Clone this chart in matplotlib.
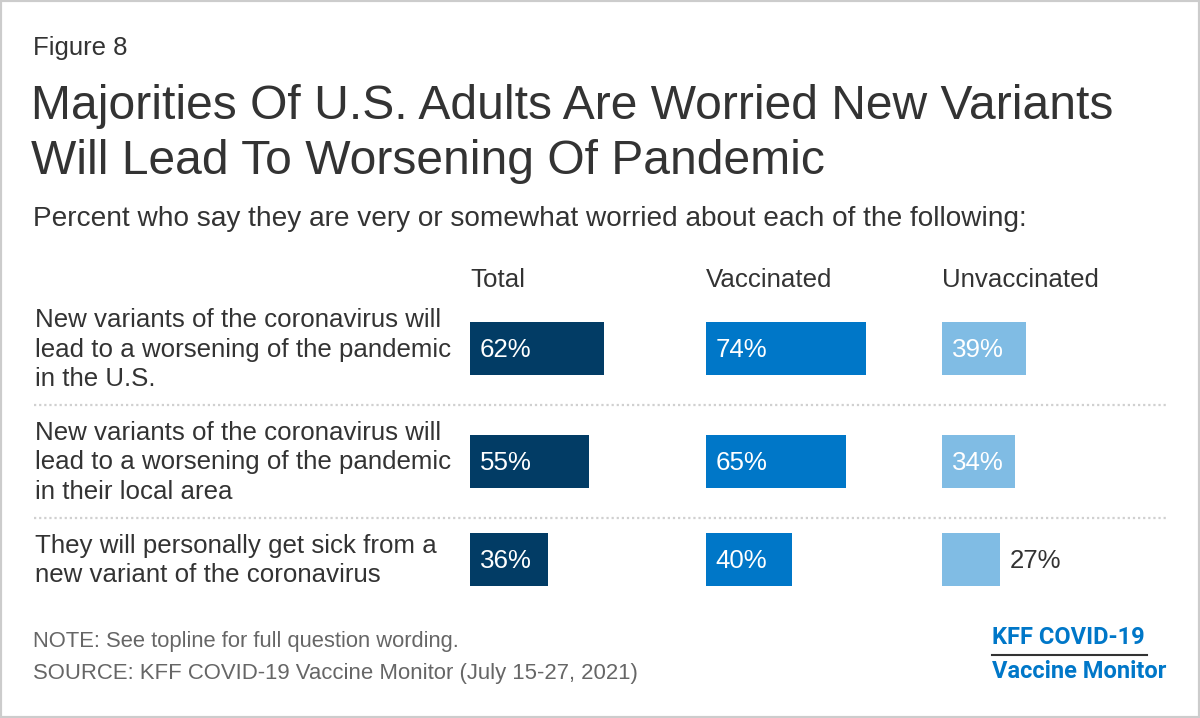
"""KFF figure: worry about new coronavirus variants, small-multiple bars."""

import matplotlib.pyplot as plt
from matplotlib.patches import Rectangle
from matplotlib.lines import Line2D

plt.rcParams['font.family'] = ['Liberation Sans', 'DejaVu Sans']

# data
row_labels = [
    'New variants of the coronavirus will\nlead to a worsening of the pandemic\nin the U.S.',
    'New variants of the coronavirus will\nlead to a worsening of the pandemic\nin their local area',
    'They will personally get sick from a\nnew variant of the coronavirus',
]
groups = ['Total', 'Vaccinated', 'Unvaccinated']
total = [62, 55, 36]
vaccinated = [74, 65, 40]
unvaccinated = [39, 34, 27]
series = [total, vaccinated, unvaccinated]
colors = ['#023c65', '#0077c8', '#80bce4']

TEXT = '#333333'
W, H = 1200, 718

fig = plt.figure(figsize=(W / 100, H / 100), dpi=100)


def fx(px):
    return px / W


def fy(py):
    return 1 - py / H


# row layout in pixels: height depends on how many lines the label has
top = 292
row_heights = [23 + 30 * (lab.count('\n') + 1) for lab in row_labels]
edges = [top]
for h in row_heights:
    edges.append(edges[-1] + h)
centers = [(a + b) / 2 for a, b in zip(edges[:-1], edges[1:])]
bottom = edges[-1]

# one axes per group, x scale 0-100 over 216 px
panel_left = [470, 706, 942]
panel_w = 216
for name, vals, col, left in zip(groups, series, colors, panel_left):
    ax = fig.add_axes([fx(left), fy(bottom), panel_w / W, (bottom - top) / H])
    ax.barh(centers, vals, height=53, color=col)
    ax.set_xlim(0, 100)
    ax.set_ylim(bottom, top)
    ax.axis('off')
    for c, v in zip(centers, vals):
        if v >= 30:
            ax.text(4.5, c + 1, f'{v}%', color='white', fontsize=18.6,
                    va='center', ha='left')
        else:
            ax.text(v + 4.5, c + 1, f'{v}%', color=TEXT, fontsize=18.6,
                    va='center', ha='left')
    fig.text(fx(left), fy(280), name, color=TEXT, fontsize=18.6, va='center')

# row labels and separators
for lab, c in zip(row_labels, centers):
    fig.text(fx(35), fy(c + 1), lab, color=TEXT, fontsize=18.6, va='center',
             ha='left', linespacing=1.27)
for e in edges[1:-1]:
    fig.add_artist(Line2D([fx(34), fx(1166)], [fy(e), fy(e)], color='#d0d0d0',
                          lw=1.6, linestyle=(0, (1, 1.3))))

# headings
fig.text(fx(33), fy(48), 'Figure 8', color=TEXT, fontsize=18.5, va='center')
fig.text(fx(31), fy(134), 'Majorities Of U.S. Adults Are Worried New Variants\n'
         'Will Lead To Worsening Of Pandemic', color=TEXT, fontsize=34.6,
         va='center', ha='left', linespacing=1.3)
fig.text(fx(33), fy(219), 'Percent who say they are very or somewhat worried '
         'about each of the following:', color=TEXT, fontsize=20.2, va='center')

# footer
fig.text(fx(33), fy(641), 'NOTE: See topline for full question wording.',
         color='#666666', fontsize=15.8, va='center')
fig.text(fx(33), fy(673), 'SOURCE: KFF COVID-19 Vaccine Monitor (July 15-27, 2021)',
         color='#666666', fontsize=15.9, va='center')

# logo
fig.text(fx(992), fy(637), 'KFF COVID-19', color='#0077c8', fontsize=17,
         fontweight='bold', va='center', family=['Roboto', 'DejaVu Sans'])
fig.add_artist(Line2D([fx(992), fx(1147)], [fy(655), fy(655)], color='#333333', lw=1.5))
fig.text(fx(992), fy(671), 'Vaccine Monitor', color='#0077c8', fontsize=17,
         fontweight='bold', va='center', family=['Roboto', 'DejaVu Sans'])

# border
fig.add_artist(Rectangle((0, 0), 1, 1, transform=fig.transFigure, fill=False,
                         edgecolor='#cccccc', lw=3))

fig.savefig('out.png', dpi=100, facecolor='white')
